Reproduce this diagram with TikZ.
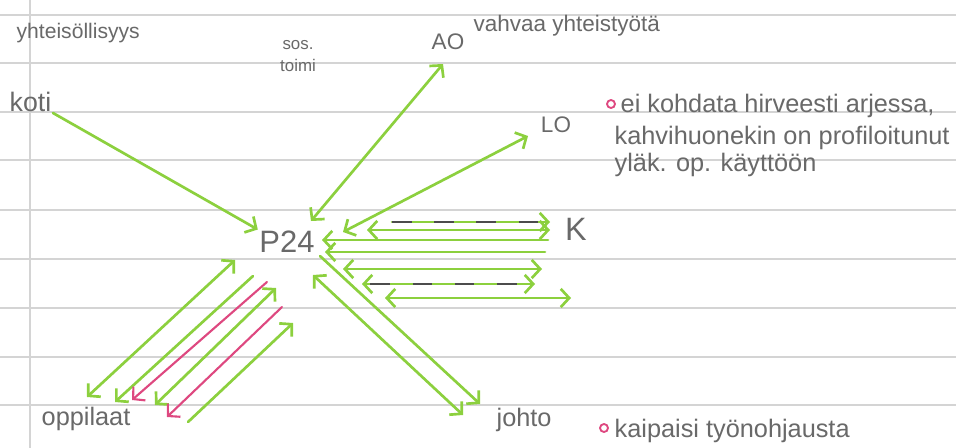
\documentclass[tikz,border=0pt]{standalone}
\usepackage{fontspec}
\setmainfont{Liberation Sans}
\usetikzlibrary{arrows.meta}

\definecolor{ink}{RGB}{105,105,105}
\definecolor{marker}{RGB}{140,208,62}
\definecolor{rose}{RGB}{222,72,128}
\definecolor{ruling}{RGB}{212,212,212}

\begin{document}
\begin{tikzpicture}[x=0.025cm, y=-0.025cm,
  >={Straight Barb[length=6pt,width=13pt]},
  hand/.style={text=ink, inner sep=1pt},
  pen/.style={marker, line width=1.9pt, line cap=round},
  pinkpen/.style={rose, line width=1.5pt, line cap=round},
  dashline/.style={black!70, line width=1.4pt, dash pattern=on 14pt off 16pt},
  tipL/.style={<-}, tipR/.style={->}, tipLR/.style={<->},
  dot/.style={circle, draw=rose, line width=1.3pt, minimum size=0.2cm, inner sep=0pt}]
  \useasboundingbox (0,0) rectangle (956,448);
  \fill[white] (0,0) rectangle (956,448);
  % ruled paper, margin line at x=30
  \foreach \y in {15,63,112,160,210,259,308,357,405}
    \draw[ruling, line width=0.8pt] (0,\y) -- (956,\y);
  \draw[ruling, line width=0.8pt] (30,0) -- (30,448);

  % labels
  \node[hand, font=\fontsize{15}{16}\selectfont, anchor=base west] (yht) at (15,38) {yhteisöllisyys};
  \node[hand, font=\fontsize{12}{16}\selectfont, align=center] (sos) at (298,56) {sos.\\toimi};
  \node[hand, font=\fontsize{16}{18}\selectfont] (AO) at (448,42) {AO};
  \node[hand, font=\fontsize{16}{18}\selectfont, anchor=base west] (vahvaa) at (472,31) {vahvaa yhteistyötä};
  \node[hand, font=\fontsize{19}{20}\selectfont, anchor=base west] (koti) at (8,111) {koti};
  \node[hand, font=\fontsize{16}{18}\selectfont] (LO) at (556,125) {LO};
  \node[hand, font=\fontsize{22}{24}\selectfont] (P24) at (287,242) {P24};
  \node[hand, font=\fontsize{23}{26}\selectfont] (K) at (576,229) {K};
  \node[hand, font=\fontsize{18}{20}\selectfont, anchor=base west] (opp) at (40,425) {oppilaat};
  \node[hand, font=\fontsize{18}{20}\selectfont, anchor=base west] (johto) at (495,426) {johto};

  % notes with pink bullets
  \node[dot] (dot1) at (611,104) {};
  \node[hand, font=\fontsize{18}{20}\selectfont, anchor=base west] (note1a) at (619,112) {ei kohdata hirveesti arjessa,};
  \node[hand, font=\fontsize{18}{20}\selectfont, anchor=base west] (note1b) at (613,144) {kahvihuonekin on profiloitunut};
  \node[hand, font=\fontsize{18}{20}\selectfont, anchor=base west] (note1c) at (613,171) {yläk. op. käyttöön};
  \node[dot] (dot2) at (604,428) {};
  \node[hand, font=\fontsize{18}{20}\selectfont, anchor=base west] (note2) at (613,437) {kaipaisi työnohjausta};

  % arrows into P24
  \coordinate (p24ao) at (311,221);
  \coordinate (aoEnd) at (443,64);
  \coordinate (p24lo) at (343,232);
  \coordinate (loEnd) at (528,136);
  \draw[pen, ->] (koti.south east) -- (P24.north west);
  \draw[pen, <->] (p24ao) -- (aoEnd);
  \draw[pen, <->] (p24lo) -- (loEnd);

  % P24 -- K bundle
  \foreach \i/\ya/\xa/\xb/\tip in {1/222/392/550/tipR, 2/230/367/550/tipLR,
      3/240/322/548/tipL, 4/252/325/545/tipL, 5/269/343/542/tipLR,
      6/284/362/535/tipLR, 7/298/385/571/tipLR}{
    \coordinate (kl\i) at (\xa,\ya);
    \coordinate (kr\i) at (\xb,\ya);
    \draw[pen, \tip] (kl\i) -- (kr\i);
  }
  \draw[dashline, shorten >=8pt] (kl1) -- (kr1);
  \draw[dashline, shorten <=6pt, shorten >=8pt] (kl6) -- (kr6);

  % P24 -- oppilaat bundle
  \foreach \i/\xa/\ya/\xb/\yb/\c/\tip in {1/235/260/87/397/pen/tipLR,
      2/253/276/115/402/pen/tipR, 3/267/282/132/400/pinkpen/tipR,
      4/276/288/155/405/pen/tipLR, 5/282/307/167/417/pinkpen/tipR,
      6/293/323/188/422/pen/tipL}{
    \coordinate (ot\i) at (\xa,\ya);
    \coordinate (ob\i) at (\xb,\yb);
    \draw[\c, \tip] (ot\i) -- (ob\i);
  }

  % P24 -- johto
  \coordinate (jt1) at (320,256);
  \coordinate (jb1) at (480,404);
  \coordinate (jt2) at (313,275);
  \coordinate (jb2) at (463,415);
  \draw[pen, ->] (jt1) -- (jb1);
  \draw[pen, <->] (jt2) -- (jb2);
\end{tikzpicture}
\end{document}
